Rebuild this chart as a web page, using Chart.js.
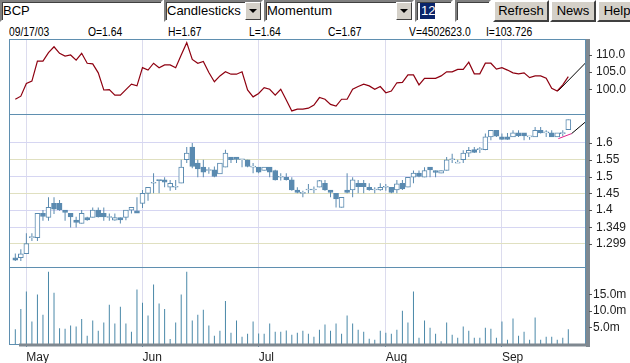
<!DOCTYPE html>
<html>
<head>
<meta charset="utf-8">
<script src="https://cdn.jsdelivr.net/npm/chart.js@4.4.0/dist/chart.umd.min.js"></script>
<style>
  body { margin: 0; width: 630px; height: 363px; overflow: hidden; background: #fff; position: relative;
         font-family: "Liberation Sans", Arial, sans-serif; }
  .ctl { position: absolute; top: 0; height: 22px; box-sizing: border-box; font-size: 13px; line-height: 18px;
         color: #000; white-space: nowrap; overflow: hidden; }
  .field { background: #fff; border: 2px solid; border-color: #808080 #fff #fff #808080;
           box-shadow: inset 1px 1px 0 #404040; padding-left: 1px; }
  .btn { background: #d4d0c8; border: 2px solid; border-color: #fff #404040 #404040 #fff; text-align: center; }
  .arr { position: absolute; right: 0; top: 0; width: 16px; height: 18px; box-sizing: border-box; background: #d4d0c8;
         border: 1px solid; border-color: #fff #404040 #404040 #fff; }
  .arr::after { content: ""; position: absolute; left: 3px; top: 6px; border-left: 4px solid transparent;
                border-right: 4px solid transparent; border-top: 4px solid #000; }
  .sel { background: #0a246a; color: #fff; padding: 0 0 1px 1px; margin-left: 2px; }
  .info span { position: absolute; top: 25px; font-size: 12px; line-height: 14px; transform: scaleX(0.86);
               transform-origin: 0 0; color: #000; white-space: nowrap; }
  canvas { position: absolute; left: 0; }
</style>
</head>
<body>
<div class="ctl field" style="left:0;width:163px">BCP</div>
<div class="ctl field" style="left:164px;width:99px">Candlesticks<span class="arr"></span></div>
<div class="ctl field" style="left:264px;width:150px">Momentum<span class="arr"></span></div>
<div class="ctl field" style="left:415px;width:38px"><span class="sel">12</span></div>
<div class="ctl field" style="left:455px;width:36px"></div>
<div class="ctl btn" style="left:493px;width:56px">Refresh</div>
<div class="ctl btn" style="left:550px;width:46px">News</div>
<div class="ctl btn" style="left:597px;width:40px">Help</div>
<div class="info">
  <span style="left:9px">09/17/03</span>
  <span style="left:88px">O=1.64</span>
  <span style="left:168px">H=1.67</span>
  <span style="left:249px">L=1.64</span>
  <span style="left:328px">C=1.67</span>
  <span style="left:409px">V=4502623.0</span>
  <span style="left:486px">I=103.726</span>
</div>
<canvas id="mom" width="630" height="77" style="top:38px"></canvas>
<canvas id="price" width="630" height="155" style="top:113px"></canvas>
<canvas id="vol" width="630" height="97" style="top:266px"></canvas>
<script>
// trading days, index 0 = 04/29/03 ... index 100 = 09/17/03
const monthIdx = [2, 23, 44, 67, 88];
const monthNames = ['May', 'Jun', 'Jul', 'Aug', 'Sep'];

const opens = [1.258,1.258,1.270,1.318,1.318,1.390,1.378,1.420,1.420,1.400,
  1.390,1.370,1.360,1.378,1.378,1.400,1.390,1.378,1.370,1.378,
  1.378,1.400,1.398,1.420,1.450,1.480,1.490,1.490,1.468,1.468,
  1.480,1.550,1.588,1.540,1.528,1.518,1.520,1.508,1.528,1.558,
  1.558,1.550,1.550,1.528,1.528,1.518,1.528,1.518,1.498,1.498,
  1.490,1.460,1.450,1.460,1.460,1.468,1.480,1.460,1.450,1.408,
  1.460,1.460,1.480,1.480,1.468,1.460,1.460,1.468,1.468,1.460,
  1.480,1.468,1.498,1.510,1.498,1.528,1.518,1.510,1.518,1.550,
  1.540,1.550,1.570,1.580,1.580,1.580,1.618,1.638,1.618,1.618,
  1.618,1.630,1.630,1.618,1.618,1.638,1.630,1.630,1.618,1.628,
  1.640];
const highs = [1.271,1.283,1.331,1.331,1.390,1.400,1.438,1.438,1.430,1.400,
  1.390,1.380,1.400,1.380,1.408,1.408,1.408,1.390,1.390,1.378,
  1.400,1.408,1.438,1.460,1.468,1.510,1.490,1.498,1.490,1.490,
  1.550,1.588,1.600,1.550,1.550,1.528,1.530,1.540,1.580,1.558,
  1.558,1.550,1.550,1.540,1.528,1.528,1.528,1.520,1.510,1.510,
  1.498,1.468,1.458,1.478,1.470,1.490,1.490,1.460,1.450,1.438,
  1.510,1.498,1.490,1.490,1.480,1.468,1.480,1.478,1.468,1.490,
  1.490,1.498,1.518,1.518,1.528,1.528,1.518,1.518,1.558,1.568,
  1.550,1.578,1.588,1.588,1.588,1.628,1.638,1.638,1.628,1.630,
  1.638,1.638,1.630,1.618,1.648,1.648,1.638,1.638,1.630,1.638,
  1.670];
const lows = [1.248,1.248,1.270,1.308,1.308,1.368,1.368,1.388,1.398,1.368,
  1.348,1.348,1.360,1.368,1.378,1.378,1.368,1.368,1.368,1.360,
  1.370,1.390,1.391,1.406,1.428,1.450,1.450,1.468,1.458,1.460,
  1.480,1.540,1.525,1.498,1.498,1.508,1.498,1.508,1.528,1.540,
  1.540,1.528,1.528,1.510,1.510,1.518,1.498,1.488,1.488,1.488,
  1.458,1.450,1.438,1.450,1.450,1.468,1.458,1.438,1.408,1.408,
  1.450,1.438,1.450,1.450,1.458,1.450,1.458,1.458,1.450,1.450,
  1.460,1.468,1.480,1.498,1.498,1.498,1.498,1.510,1.518,1.540,
  1.540,1.540,1.558,1.570,1.570,1.578,1.608,1.618,1.610,1.610,
  1.618,1.618,1.608,1.610,1.618,1.628,1.618,1.618,1.618,1.620,
  1.640];
const closes = [1.251,1.270,1.300,1.318,1.390,1.381,1.408,1.403,1.401,1.393,
  1.380,1.363,1.390,1.371,1.400,1.380,1.380,1.378,1.378,1.371,
  1.400,1.408,1.391,1.450,1.468,1.480,1.488,1.483,1.480,1.468,
  1.528,1.570,1.530,1.523,1.513,1.518,1.500,1.540,1.570,1.550,
  1.551,1.550,1.530,1.528,1.513,1.528,1.513,1.490,1.498,1.491,
  1.460,1.453,1.450,1.460,1.460,1.488,1.460,1.453,1.433,1.438,
  1.453,1.490,1.470,1.470,1.461,1.460,1.468,1.468,1.453,1.478,
  1.463,1.498,1.510,1.500,1.518,1.520,1.512,1.518,1.550,1.550,
  1.540,1.570,1.578,1.572,1.580,1.618,1.638,1.620,1.611,1.611,
  1.630,1.621,1.621,1.618,1.638,1.630,1.630,1.618,1.630,1.628,
  1.670];
// 12-day momentum
const momentum = [97.1,98.0,101.7,102.4,108.2,108.2,110.7,112.4,110.5,109.7,
  110.0,108.5,110.5,107.6,107.4,104.8,99.8,99.9,98.3,98.3,
  99.9,101.5,101.0,106.3,105.6,107.6,106.3,107.1,107.1,106.3,
  110.0,113.6,108.7,107.6,108.1,104.9,102.2,103.9,105.1,104.4,
  104.4,105.1,99.8,97.8,98.8,100.5,100.0,98.3,100.0,96.9,
  93.7,94.2,94.2,94.5,95.4,97.6,97.1,95.6,95.1,97.1,
  97.1,100.0,100.8,101.5,101.0,100.0,100.8,99.0,99.5,101.9,
  102.0,104.2,104.2,101.3,103.2,103.2,103.2,103.9,105.1,105.1,
  105.8,105.8,107.9,104.5,104.5,107.6,107.6,105.9,106.3,105.6,
  104.8,104.5,104.8,103.4,103.9,103.9,103.2,100.3,99.5,101.3,
  103.7];
// volume, millions of shares
const volumes = [4.5,10.6,15.9,6.8,15.0,8.9,21.9,15.5,4.8,4.6,
  5.6,5.3,7.6,2.5,7.1,4.0,6.5,11.9,6.2,11.3,
  6.2,3.7,16.5,12.5,8.6,18.0,12.3,10.6,1.5,6.5,
  15.0,21.9,7.1,8.9,10.4,5.6,2.5,4.0,13.0,3.4,
  7.1,2.2,3.1,6.8,3.2,3.1,6.2,3.7,3.7,4.1,
  2.8,3.4,4.0,3.1,2.2,4.3,5.9,4.0,6.2,3.1,
  8.6,6.2,4.3,3.7,1.6,1.3,4.0,3.4,3.1,4.3,
  10.1,6.5,15.9,1.9,7.1,4.9,3.1,0.8,6.5,2.8,
  1.9,5.3,4.0,1.9,1.9,4.9,4.6,1.9,6.8,1.3,
  7.7,2.5,3.7,1.3,8.0,1.3,2.2,2.2,1.3,1.9,
  4.5];

const momTicks = [100, 105, 110];
const priceTicks = [1.299, 1.349, 1.4, 1.45, 1.5, 1.55, 1.6];
const volTicks = [5, 10, 15];

// user-drawn trend lines (index, value)
const momTrendX = [98.2, 103.3];
const momTrendY = [99.6, 108.0];
const priceTrendX = [98.2, 100.6, 103.3];
const priceTrendY = [1.613, 1.628, 1.6655];

const candleColor = '#5a8ab0';
const frameColor = '#5f8fb0';
const bandColor = '#7f8890';

Chart.defaults.font.family = '"Liberation Sans", Arial, sans-serif';
Chart.defaults.font.size = 12;
Chart.defaults.color = '#222';

const frame = {
  id: 'frame',
  afterDraw(chart, args, opts) {
    const { ctx, chartArea: a } = chart;
    ctx.save();
    ctx.strokeStyle = frameColor;
    ctx.lineWidth = 1;
    ctx.strokeRect(a.left - 0.5, a.top + 0.5, a.right - a.left, a.bottom - a.top);
    ctx.fillStyle = bandColor;
    ctx.fillRect(a.right, a.top, 4, a.bottom - a.top + (opts.bottomBand ? 3 : 0));
    if (opts.bottomBand) ctx.fillRect(a.left + 9, a.bottom - 0.5, a.right - a.left - 9, 3);
    // small tick marks on the value axis
    const y = chart.scales.y;
    ctx.strokeStyle = '#555';
    y.ticks.forEach(t => {
      const py = Math.round(y.getPixelForValue(t.value)) + 0.5;
      ctx.beginPath();
      ctx.moveTo(a.right + 3, py);
      ctx.lineTo(a.right + 6, py);
      ctx.stroke();
    });
    ctx.restore();
  }
};

function noPad(s) {
  s.paddingLeft = 0; s.paddingRight = 0; s.paddingTop = 0; s.paddingBottom = 0;
}

function xScale(showLabels) {
  return {
    type: 'linear',
    min: -0.96,
    max: 103.2,
    offset: false,
    afterBuildTicks: s => { s.ticks = monthIdx.map(v => ({ value: v })); },
    afterFit: s => { s.height = showLabels ? 19 : 0; noPad(s); },
    grid: { offset: false, color: '#dcdcee', drawTicks: showLabels, tickLength: 3, tickColor: frameColor },
    border: { display: false },
    ticks: {
      display: showLabels,
      autoSkip: false,
      maxRotation: 0,
      align: 'start',
      padding: 3,
      callback: v => monthNames[monthIdx.indexOf(v)] || ''
    }
  };
}

function yScale(min, max, ticks, fmt, gridColor, pad) {
  return {
    position: 'right',
    min: min,
    max: max,
    afterBuildTicks: s => { s.ticks = ticks.map(v => ({ value: v })); },
    afterFit: s => { s.width = 44; noPad(s); },
    grid: { display: !!gridColor, color: gridColor || 'transparent', drawTicks: false },
    border: { display: false },
    ticks: { autoSkip: false, padding: pad, callback: fmt }
  };
}

const common = {
  responsive: false,
  animation: false,
  events: [],
  plugins: { legend: { display: false }, tooltip: { enabled: false } }
};

const idx = closes.map((c, i) => i);

new Chart(document.getElementById('mom'), {
  type: 'line',
  data: {
    datasets: [{
      data: idx.map(i => ({ x: i, y: momentum[i] })),
      borderColor: '#8e0010',
      borderWidth: 1.2,
      pointRadius: 0,
      tension: 0
    }, {
      data: momTrendX.map((x, k) => ({ x: x, y: momTrendY[k] })),
      borderColor: '#000',
      borderWidth: 1,
      pointRadius: 0
    }]
  },
  options: Object.assign({}, common, {
    layout: { padding: { left: 10, top: 1, bottom: 1 } },
    scales: {
      x: xScale(false),
      y: yScale(92.8, 114.66, momTicks, v => v.toFixed(1), null, 10)
    },
    plugins: Object.assign({}, common.plugins, { frame: {} })
  }),
  plugins: [frame]
});

const bodyFill = idx.map(i => closes[i] >= opens[i] ? '#fff' : candleColor);

new Chart(document.getElementById('price'), {
  type: 'bar',
  data: {
    datasets: [{
      label: 'wick',
      data: idx.map(i => ({ x: i, y: [lows[i], highs[i]] })),
      backgroundColor: candleColor,
      borderWidth: 0,
      barThickness: 1,
      inflateAmount: 0,
      minBarLength: 1,
      grouped: false,
      order: 3
    }, {
      label: 'body',
      data: idx.map(i => ({ x: i, y: [opens[i], closes[i]] })),
      backgroundColor: bodyFill,
      borderColor: candleColor,
      borderWidth: 1,
      borderSkipped: false,
      barThickness: 5,
      minBarLength: 1,
      grouped: false,
      order: 2
    }, {
      type: 'line',
      label: 'trend',
      data: priceTrendX.map((x, k) => ({ x: x, y: priceTrendY[k] })),
      borderColor: '#000',
      borderWidth: 1,
      pointRadius: 0,
      segment: { borderColor: c => c.p0DataIndex === 0 ? '#e0208a' : '#000' },
      order: 1
    }]
  },
  options: Object.assign({}, common, {
    layout: { padding: { left: 10, top: 1, bottom: 1 } },
    scales: {
      x: xScale(false),
      y: yScale(1.2304, 1.6864, priceTicks, v => String(v),
        ['#e0e0c0', '#d6d6f2', '#d6d6f2', '#e0e0c0', '#d6d6f2', '#e0e0c0', '#d6d6f2'], 10)
    },
    plugins: Object.assign({}, common.plugins, { frame: {} })
  }),
  plugins: [frame]
});

new Chart(document.getElementById('vol'), {
  type: 'bar',
  data: {
    datasets: [{
      data: idx.map(i => ({ x: i, y: volumes[i] })),
      backgroundColor: '#4a88a8',
      borderWidth: 0,
      barThickness: 1,
      inflateAmount: 0,
      grouped: false
    }]
  },
  options: Object.assign({}, common, {
    layout: { padding: { left: 10, top: 1, bottom: 0 } },
    scales: {
      x: xScale(true),
      y: yScale(0, 23.33, volTicks, v => v.toFixed(1) + 'm', null, 7)
    },
    plugins: Object.assign({}, common.plugins, { frame: { bottomBand: true } })
  }),
  plugins: [frame]
});
</script>
</body>
</html>
